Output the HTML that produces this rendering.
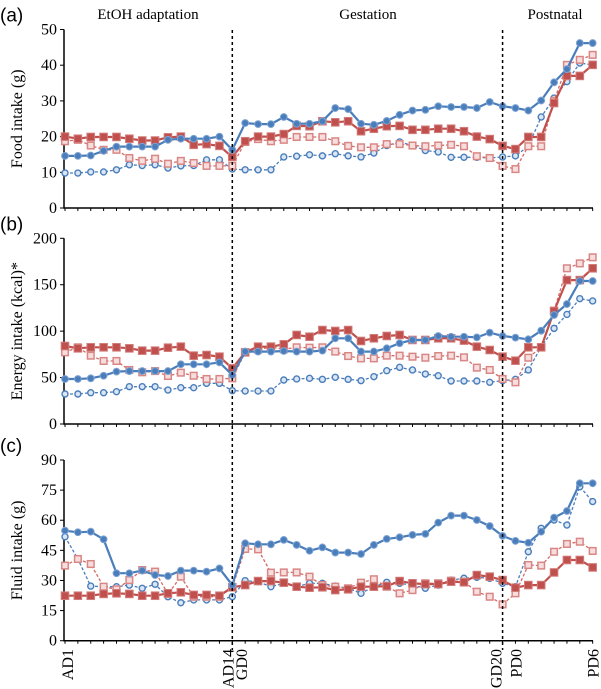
<!DOCTYPE html>
<html><head><meta charset="utf-8"><style>
html,body{margin:0;padding:0;background:#fff;}
svg{display:block;font-family:"Liberation Serif",serif;}
.sans{font-family:"Liberation Sans",sans-serif;}
</style></head><body>
<svg id="chart" width="601" height="689" viewBox="0 0 601 689"></svg>
<script>
const categories = ["AD1","AD2","AD3","AD4","AD5","AD6","AD7","AD8","AD9","AD10","AD11","AD12","AD13","AD14","GD0","GD1","GD2","GD3","GD4","GD5","GD6","GD7","GD8","GD9","GD10","GD11","GD12","GD13","GD14","GD15","GD16","GD17","GD18","GD19","GD20","PD0","PD1","PD2","PD3","PD4","PD5","PD6"];
const xTickLabels = {"AD1":"AD1","AD14":"AD14","GD0":"GD0","GD20":"GD20","PD0":"PD0","PD6":"PD6"};
const phaseLabels = ["EtOH adaptation","Gestation","Postnatal"];

const foodBlueSolid = [14.6,14.6,14.7,16,17.2,17.2,17.2,17.2,19.1,19.4,19.4,19.4,20,16.3,23.8,23.5,23.5,25.5,23.6,23.6,24.3,28,27.7,23.6,23.3,24.4,26.1,27.3,27.5,28.5,28.3,28.3,28,29.7,28.5,28,27.3,30.1,35.2,38.9,46.2,46.2];
const foodBlueDashed = [9.8,9.8,10.1,10.1,10.7,12.1,11.9,12.1,11.2,11.8,11.9,13.5,13.5,10.9,10.7,10.7,10.7,14.3,14.5,14.9,14.6,15.2,14.6,14.3,15.4,17.5,18.5,17.5,16.1,15.7,14.2,14.2,14.2,14,14.3,14.6,17.3,25.5,30.8,35.4,40.6,40.1];
const foodRedSolid = [20,19.4,19.9,19.9,19.9,19.4,18.9,18.9,19.8,20,17.7,17.9,17.4,14.3,18.7,20,20,20.7,23,22.9,24.3,24,24.3,21.5,22.2,22.9,23,21.9,21.9,22.2,22.2,21.5,20,19.3,17.4,16.5,19.9,19.9,29.4,37,37,40.1];
const foodRedDashed = [18.7,19.1,17.5,16.3,16.3,14,13.2,13.8,12.4,13.2,12.6,11.8,11.8,11.8,18.5,19.3,18.7,19.1,19.9,19.9,19.9,18.7,17.4,17,17,17.9,17.9,17.5,17.3,17.5,17.7,17.3,14.5,14,11.8,10.9,17.3,17.3,30,40.1,41.5,42.9];

const energyBlueSolid = [48.5,48.5,49.2,52,56.4,57,57,57,57,64.3,64.3,64.3,66.4,52.8,78,78,78,78.6,78,78,79,92.3,92.3,78,78,81.5,87,90.5,90.5,94.8,94,94,93.3,98.4,94.8,93,91.2,100.5,117.4,129.2,154,154];
const energyBlueDashed = [32.3,32.3,33.7,33.7,34.8,40.2,40.2,40.2,36.6,39.1,39.1,43.8,43.8,35.9,35.5,35.5,35.5,47.4,48.5,49.2,48.1,50.3,48.1,46.7,51,57.4,61,58.2,53.8,52,46.3,46.3,46.3,44.9,46.7,48.1,58.2,83,103,118,135,132.5];
const energyRedSolid = [84,81.5,82.6,82.6,82.6,81.5,79,79,82.2,83.3,73.6,74.3,72.5,60,77.2,83.3,83.3,85.8,95.9,94,101.2,100.2,101.2,89.4,92.3,94.8,95.9,90.5,90.5,92.3,92.3,89.8,83.3,79.7,72.5,68.2,82.6,82.6,121.7,155,155,167.7];
const energyRedDashed = [77.2,82.6,73.6,67.9,67.9,58.2,55.7,57,51.7,55.3,52,48.5,48.5,49.2,77,80,83,80.4,82.6,82.2,82.6,78,73.2,70.7,70.7,73.6,73.6,72.5,71.4,73.2,73.6,71.8,60.7,58.2,48.5,44.9,71.4,82.6,122,167.7,173,179.5];

const fluidBlueSolid = [54.8,54,54.3,50.5,33.6,33.6,34.9,32.7,32.2,34.9,34.9,34.4,36,27.7,48.5,48,48,50.2,47.7,44.8,46.5,43.9,43.9,43.2,47.7,50.7,51.5,52.7,53.2,58.8,62.3,62.3,60.1,57.1,52.2,49.7,48.8,54.3,61.3,64.6,78.4,78.4];
const fluidBlueDashed = [51.8,40.7,27.2,26.9,26.9,27.7,26.1,28.1,21.9,18.9,20.3,20.3,20.3,21.9,29.9,29.4,26.9,28.6,26.9,28.6,28.6,27.2,26.1,23.6,26.9,29.1,28.6,27.7,26.1,27.7,30.2,31.1,31.6,31.1,28.6,26.9,44.3,56,60.1,57.6,76.7,69.3];
const fluidRedSolid = [22.4,22.4,22.4,23.3,23.6,23.3,22.4,22.4,23.6,24.1,22.8,22.8,22.4,26.6,27.7,29.7,29.7,28.9,26.9,26.4,26.6,25.2,25.6,26.9,26.9,27.2,29.7,28.6,28.2,28.2,29.4,29.1,32.7,31.9,30.2,26.4,27.7,27.7,34,40.2,40.2,36.5];
const fluidRedDashed = [37.4,40.7,38.2,26.9,25.6,30.2,35.2,34.4,23.3,31.9,21.9,21.9,21.9,26.6,45.7,45.5,33.9,34,34,31.9,27.7,26.9,26.1,28.9,30.6,26.9,23.6,25.2,28.6,28.6,29.9,29.4,24.4,21.9,18.1,23.6,37.7,37.4,44.3,48.2,49.3,44.7];

const foodTicks = [0,10,20,30,40,50];
const energyTicks = [0,50,100,150,200];
const fluidTicks = [0,15,30,45,60,75,90];
</script>
<script>
const NS="http://www.w3.org/2000/svg";
const svg=document.getElementById('chart');
function mk(tag,attrs,parent){const e=document.createElementNS(NS,tag);for(const k in attrs)e.setAttribute(k,attrs[k]);(parent||svg).appendChild(e);return e;}
const X0=65, XSTEP=12.87;
function xPos(i){return X0+i*XSTEP;}
const BLUE="#4a7ebb", RED="#c0504d";

function drawPanel(key,letter,title,ticks,yMax,yTop,yBot,series){
  const g=mk('g',{});
  
  
  const yScale=v=>yBot-(v/yMax)*(yBot-yTop);
  const lab=mk('text',{x:0,y:yTop-8,'font-size':19,class:'sans'},g);
  lab.textContent='('+letter+')';
  
  
  const ax=mk('path',{d:`M64,${yTop} V${yBot} H593`,stroke:'#000','stroke-width':1.5,fill:'none'},g);
  
  
  ticks.forEach(t=>{
    const y=yScale(t);
    mk('line',{x1:60,x2:64,y1:y,y2:y,stroke:'#000'},g);
    const tx=mk('text',{x:57,y:y+5,'text-anchor':'end','font-size':16},g);
    tx.textContent=t;
    
    
  });
  categories.forEach((c,i)=>{mk('line',{x1:xPos(i),x2:xPos(i),y1:yBot,y2:yBot+3,stroke:'#000'},g);});
  const yt=mk('text',{x:0,y:0,'font-size':16,'text-anchor':'middle',transform:`translate(22,${(yTop+yBot)/2}) rotate(-90)`},g);
  yt.textContent=title;
  
  
  series.forEach(s=>{
    const sg=mk('g',{},g);
    
    
    const pts=s.data.map((v,i)=>xPos(i).toFixed(1)+','+yScale(v).toFixed(1)).join(' ');
    mk('polyline',{points:pts,fill:'none',stroke:s.color,'stroke-width':s.dashed?1.3:2.2,'stroke-dasharray':s.dashed?'3,2':'none'},sg);
    s.data.forEach((v,i)=>{
      const x=xPos(i),y=yScale(v);
      let m;
      if(s.shape==='circle'){
        m=mk('circle',{cx:x,cy:y,r:s.dashed?3:3.4,fill:s.dashed?'#dbe6f4':s.color,stroke:s.dashed?s.color:'#7fa3d3','stroke-width':s.dashed?1.4:1},sg);
      }else{
        const h=s.dashed?3.3:3.8;
        m=mk('rect',{x:x-h,y:y-h,width:2*h,height:2*h,fill:s.dashed?'#f6dede':s.color,stroke:s.dashed?'#d98785':'#d27c7a','stroke-width':s.dashed?1.5:1},sg);
      }
      
      
    });
  });
}
drawPanel('food','a','Food intake (g)',foodTicks,50,29.5,208,[
 {name:'blue-dashed',data:foodBlueDashed,color:BLUE,dashed:true,shape:'circle'},
 {name:'red-dashed',data:foodRedDashed,color:'#d46a68',dashed:true,shape:'square'},
 {name:'red-solid',data:foodRedSolid,color:RED,dashed:false,shape:'square'},
 {name:'blue-solid',data:foodBlueSolid,color:BLUE,dashed:false,shape:'circle'}]);
drawPanel('energy','b','Energy intake (kcal)*',energyTicks,200,238.3,424,[
 {name:'blue-dashed',data:energyBlueDashed,color:BLUE,dashed:true,shape:'circle'},
 {name:'red-dashed',data:energyRedDashed,color:'#d46a68',dashed:true,shape:'square'},
 {name:'red-solid',data:energyRedSolid,color:RED,dashed:false,shape:'square'},
 {name:'blue-solid',data:energyBlueSolid,color:BLUE,dashed:false,shape:'circle'}]);
drawPanel('fluid','c','Fluid intake (g)',fluidTicks,90,460,640.7,[
 {name:'blue-dashed',data:fluidBlueDashed,color:BLUE,dashed:true,shape:'circle'},
 {name:'red-dashed',data:fluidRedDashed,color:'#d46a68',dashed:true,shape:'square'},
 {name:'red-solid',data:fluidRedSolid,color:RED,dashed:false,shape:'square'},
 {name:'blue-solid',data:fluidBlueSolid,color:BLUE,dashed:false,shape:'circle'}]);

[13,34].forEach(i=>{
  const l=mk('line',{x1:xPos(i),x2:xPos(i),y1:30,y2:650,stroke:'#000','stroke-width':1.5,'stroke-dasharray':'3,3'});
  
  
});
const phaseX=[148,368,555];
phaseLabels.forEach((p,i)=>{
  const t=mk('text',{x:phaseX[i],y:19,'text-anchor':'middle','font-size':15});
  t.textContent=p;
  
  
});
const xOff={"AD1":3,"AD14":-4,"GD0":-3,"GD20":-6,"PD0":1,"PD6":1};
categories.forEach((c,i)=>{
  if(!(c in xTickLabels))return;
  const x=xPos(i)+xOff[c]+5;
  const t=mk('text',{x:0,y:0,'font-size':16,'text-anchor':'end',transform:`translate(${x},649) rotate(-90)`});
  t.textContent=xTickLabels[c];
  
  
});
</script>
</body></html>
